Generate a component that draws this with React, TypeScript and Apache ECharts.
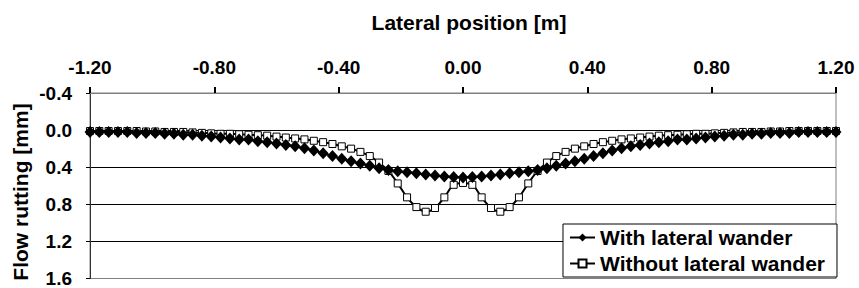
import React, { useEffect, useRef } from "react";
import * as echarts from "echarts";

const positions = [
  -1.2, -1.17, -1.14, -1.11, -1.08, -1.05, -1.02, -0.99, -0.96, -0.93,
  -0.9, -0.87, -0.84, -0.81, -0.78, -0.75, -0.72, -0.69, -0.66, -0.63,
  -0.6, -0.57, -0.54, -0.51, -0.48, -0.45, -0.42, -0.39, -0.36, -0.33,
  -0.3, -0.27, -0.24, -0.21, -0.18, -0.15, -0.12, -0.09, -0.06, -0.03,
  0,
  0.03, 0.06, 0.09, 0.12, 0.15, 0.18, 0.21, 0.24, 0.27, 0.3,
  0.33, 0.36, 0.39, 0.42, 0.45, 0.48, 0.51, 0.54, 0.57, 0.6,
  0.63, 0.66, 0.69, 0.72, 0.75, 0.78, 0.81, 0.84, 0.87, 0.9,
  0.93, 0.96, 0.99, 1.02, 1.05, 1.08, 1.11, 1.14, 1.17, 1.2,
];

const withWander = [
  0.02, 0.02, 0.02, 0.02, 0.02, 0.03, 0.03, 0.03, 0.04, 0.04,
  0.05, 0.05, 0.06, 0.07, 0.08, 0.09, 0.1, 0.1, 0.12, 0.13,
  0.145, 0.16, 0.175, 0.195, 0.22, 0.25, 0.28, 0.31, 0.335, 0.36,
  0.385, 0.41, 0.43, 0.445, 0.455, 0.465, 0.48, 0.49, 0.5, 0.505,
  0.51,
  0.505, 0.5, 0.49, 0.48, 0.465, 0.455, 0.445, 0.43, 0.41, 0.385,
  0.36, 0.335, 0.31, 0.28, 0.25, 0.22, 0.195, 0.175, 0.16, 0.145,
  0.13, 0.12, 0.1, 0.1, 0.09, 0.08, 0.07, 0.06, 0.05, 0.05,
  0.04, 0.04, 0.03, 0.03, 0.03, 0.02, 0.02, 0.02, 0.02, 0.02,
];

const withoutWander = [
  0.01, 0.01, 0.01, 0.01, 0.01, 0.01, 0.015, 0.015, 0.02, 0.02,
  0.02, 0.025, 0.03, 0.035, 0.04, 0.04, 0.045, 0.05, 0.055, 0.06,
  0.07, 0.08, 0.09, 0.1, 0.115, 0.13, 0.15, 0.175, 0.2, 0.235,
  0.28, 0.35, 0.44, 0.575, 0.725, 0.83, 0.88, 0.84, 0.725, 0.59,
  0.57,
  0.59, 0.725, 0.84, 0.88, 0.83, 0.725, 0.575, 0.44, 0.35, 0.28,
  0.235, 0.2, 0.175, 0.15, 0.13, 0.115, 0.1, 0.09, 0.08, 0.07,
  0.06, 0.055, 0.05, 0.045, 0.04, 0.04, 0.035, 0.03, 0.025, 0.02,
  0.02, 0.02, 0.015, 0.015, 0.01, 0.01, 0.01, 0.01, 0.01, 0.01,
];

const seriesNames = ["With lateral wander", "Without lateral wander"];
const xTitle = "Lateral position [m]";
const yTitle = "Flow rutting [mm]";

const FONT = "'Liberation Sans', Arial, sans-serif";

export default function App() {
  const ref = useRef<HTMLDivElement>(null);
  useEffect(() => {
    if (!ref.current) return;
    const chart = echarts.init(ref.current, undefined, { renderer: "svg" });
    const pair = (ys: number[]) => positions.map((x, i) => [x, ys[i]]);
    chart.setOption({
      animation: false,
      backgroundColor: "#fff",
      grid: {
        left: 90,
        right: 23,
        top: 93,
        bottom: 5,
        show: true,
        borderColor: "#808080",
        borderWidth: 1,
        backgroundColor: "#fff",
      },
      xAxis: {
        type: "value",
        position: "top",
        min: -1.2,
        max: 1.2,
        interval: 0.4,
        axisLine: { show: true, onZero: false, lineStyle: { color: "#808080", width: 1 } },
        axisTick: { show: true, inside: false, length: 6, lineStyle: { color: "#000", width: 2 } },
        splitLine: { show: false },
        axisLabel: {
          margin: 16,
          color: "#000",
          fontFamily: FONT,
          fontWeight: "bold",
          fontSize: 19,
          formatter: (v: number) => v.toFixed(2),
        },
      },
      yAxis: {
        type: "value",
        inverse: true,
        min: -0.4,
        max: 1.6,
        interval: 0.4,
        axisLine: { show: true, onZero: false, lineStyle: { color: "#333", width: 1 } },
        axisTick: { show: true, inside: false, length: 4, lineStyle: { color: "#000" } },
        splitLine: {
          show: true,
          lineStyle: { color: ["#808080", "#000", "#000", "#000", "#000", "#808080"], width: 1 },
        },
        axisLabel: {
          margin: 18,
          color: "#000",
          fontFamily: FONT,
          fontWeight: "bold",
          fontSize: 19,
          formatter: (v: number) => v.toFixed(1),
        },
      },
      legend: {
        orient: "vertical",
        right: 22,
        top: 224,
        padding: [3, 12, 3, 6],
        itemGap: 5,
        itemWidth: 25,
        itemHeight: 10,
        borderColor: "#000",
        borderWidth: 1,
        backgroundColor: "#fff",
        textStyle: { fontFamily: FONT, fontWeight: "bold", fontSize: 21, color: "#000" },
        data: seriesNames,
      },
      graphic: [
        {
          type: "text",
          x: 469,
          y: 22,
          style: {
            text: xTitle,
            fontFamily: FONT,
            fontWeight: "bold",
            fontSize: 21,
            fill: "#000",
            textAlign: "center",
            textVerticalAlign: "middle",
          },
        },
        {
          type: "text",
          x: 20,
          y: 192,
          rotation: Math.PI / 2,
          style: {
            text: yTitle,
            fontFamily: FONT,
            fontWeight: "bold",
            fontSize: 21,
            fill: "#000",
            textAlign: "center",
            textVerticalAlign: "middle",
          },
        },
      ],
      series: [
        {
          name: seriesNames[0],
          type: "line",
          data: pair(withWander),
          symbol: "diamond",
          symbolSize: [11, 12],
          showAllSymbol: true,
          itemStyle: { color: "#000", borderColor: "#000", borderWidth: 0 },
          lineStyle: { color: "#000", width: 2 },
          z: 5,
        },
        {
          name: seriesNames[1],
          type: "line",
          data: pair(withoutWander),
          smooth: 0.35,
          symbol: "rect",
          symbolSize: 7,
          showAllSymbol: true,
          itemStyle: { color: "#fff", borderColor: "#000", borderWidth: 1 },
          lineStyle: { color: "#000", width: 2 },
          z: 3,
        },
      ],
    });
    return () => chart.dispose();
  }, []);
  return (
    <div
      ref={ref}
      style={{ position: "fixed", left: 0, top: 0, width: 859, height: 288 }}
    />
  );
}
